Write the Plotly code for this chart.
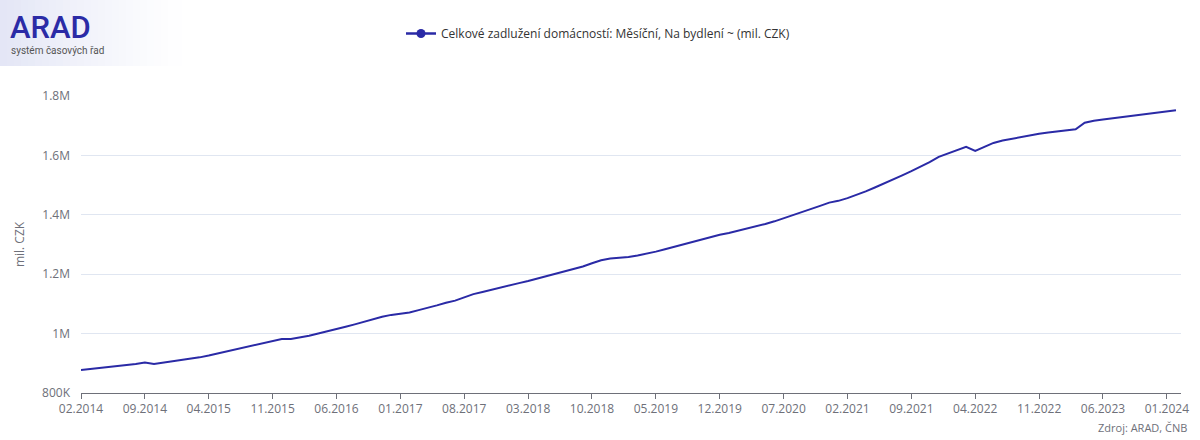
import plotly.graph_objects as go
import pandas as pd

# ---- data ----
months = [d.strftime("%m.%Y") for d in pd.date_range("2014-02-01", "2024-02-01", freq="MS")]
values_k = [
    877, 880, 883, 887, 890, 894, 898, 903, 898, 902,
    907, 910, 915, 920, 926, 933, 940, 947, 953, 960,
    967, 974, 982, 982, 987, 993, 1000, 1007, 1015, 1023,
    1031, 1040, 1049, 1057, 1063, 1066, 1071, 1079, 1086, 1095,
    1104, 1111, 1122, 1133, 1140, 1148, 1156, 1163, 1170, 1177,
    1185, 1194, 1203, 1211, 1219, 1226, 1237, 1247, 1253, 1255,
    1258, 1263, 1269, 1276, 1284, 1292, 1300, 1308, 1317, 1326,
    1333, 1339, 1346, 1353, 1360, 1369, 1378, 1388, 1398, 1408,
    1418, 1430, 1441, 1447, 1456, 1467, 1479, 1492, 1505, 1519,
    1533, 1547, 1562, 1577, 1595, 1607, 1617, 1629, 1615, 1628,
    1642, 1650, 1656, 1662, 1668, 1673, 1677, 1680, 1683, 1688,
    1710, 1717, 1721, 1725, 1729, 1733, 1738, 1742, 1746, 1749,
    1752,
]
values = [v * 1000 for v in values_k]
series_name = "Celkové zadlužení domácností: Měsíční, Na bydlení ~ (mil. CZK)"
y_tickvals = [800000, 1000000, 1200000, 1400000, 1600000, 1800000]
y_ticktext = ["800K", "1M", "1.2M", "1.4M", "1.6M", "1.8M"]
x_tickvals = months[::7]

LINE = "#2a2aa6"
GRAY = "#6e7079"
FONT = "Open Sans"

# pixel helpers for paper coords (plot area: x 81..1181, y 96..393)
def px(x):
    return (x - 81) / 1100

def py(y):
    return (393 - y) / 297

fig = go.Figure()
fig.add_trace(go.Scatter(
    x=months, y=values, mode="lines", name=series_name,
    line=dict(color=LINE, width=2),
    showlegend=False,
))
# legend entry with visible marker
fig.add_trace(go.Scatter(
    x=[None], y=[None], mode="lines+markers", name=series_name,
    line=dict(color=LINE, width=2.5),
    marker=dict(size=9, color=LINE),
))

# logo gradient background
n = 26
for i in range(n):
    x0 = i * 7
    a = 0.55 * (1 - i / n) ** 1.2
    fig.add_shape(type="rect", xref="paper", yref="paper",
                  x0=px(x0), x1=px(x0 + 7),
                  y0=py(66), y1=py(-1),
                  line_width=0, fillcolor=f"rgba(205,210,238,{a:.3f})", layer="below")

fig.add_annotation(text="ARAD", xref="paper", yref="paper",
                   x=px(8), y=py(7), xanchor="left", yanchor="top",
                   showarrow=False,
                   font=dict(family="Roboto", size=31, color="#2b2ba6", weight=500))
fig.add_annotation(text="systém časových řad", xref="paper", yref="paper",
                   x=px(9), y=py(43), xanchor="left", yanchor="top",
                   showarrow=False, font=dict(family="Roboto", size=10, color="#555"))
fig.add_annotation(text="Zdroj: ARAD, ČNB", xref="paper", yref="paper",
                   x=px(1096), y=py(437), xanchor="left", yanchor="bottom",
                   showarrow=False, font=dict(family=FONT, size=11, color=GRAY))

fig.update_layout(
    width=1200, height=440,
    margin=dict(l=81, r=19, t=96, b=47),
    paper_bgcolor="white", plot_bgcolor="white",
    font=dict(family=FONT, color=GRAY, size=12),
    legend=dict(orientation="h", x=px(598), xanchor="center", y=py(19), yanchor="top",
                font=dict(family=FONT, size=12, color="#333"), itemwidth=30),
    xaxis=dict(type="category", range=[0, len(months) - 0.45],
               tickmode="array", tickvals=x_tickvals, ticktext=x_tickvals,
               showgrid=False, showline=True, linecolor=GRAY, linewidth=1,
               ticks="outside", ticklen=5, tickcolor=GRAY,
               tickfont=dict(size=12, color=GRAY), zeroline=False),
    yaxis=dict(range=[800000, 1800000], tickmode="array",
               tickvals=y_tickvals, ticktext=y_ticktext,
               showgrid=True, gridcolor="#e0e6f1", gridwidth=1,
               showline=False, zeroline=False, ticks="",
               tickfont=dict(size=12, color=GRAY), ticklabelstandoff=10,
               title=dict(text="mil. CZK", font=dict(size=12, color=GRAY), standoff=14)),
)

fig.write_html("out.html", config={"displayModeBar": False},
               post_script="document.body.style.margin='0';document.body.style.overflow='hidden';")
